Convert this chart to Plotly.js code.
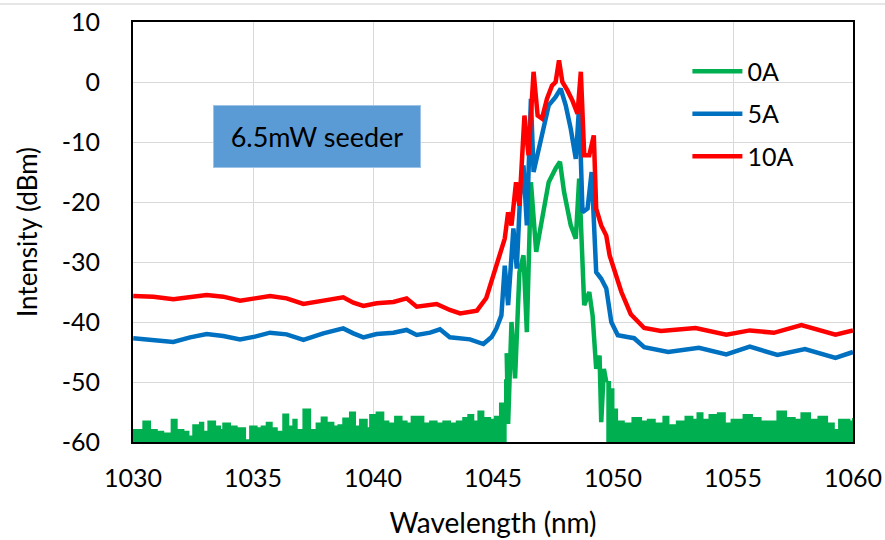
<!DOCTYPE html>
<html>
<head>
<meta charset="utf-8">
<script src="https://cdn.plot.ly/plotly-3.0.1.min.js"></script>
<style>html,body{margin:0;padding:0;background:#fff;}#chart{width:885px;height:540px;}</style>
</head>
<body>
<div id="chart"></div>
<script>
// ---- data ----
const seriesNames = ["0A", "5A", "10A"];
const floorLevel = -60;

// 0A noise floor, left of the peak
const greenLeftX = [1030.0,1030.43,1030.71,1030.99,1031.26,1031.61,1031.82,1032.1,1032.31,1032.51,1032.79,1032.93,1033.14,1033.42,1033.63,1033.76,1034.04,1034.32,1034.67,1034.88,1035.15,1035.36,1035.57,1035.78,1035.99,1036.26,1036.47,1036.68,1036.82,1037.1,1037.38,1037.65,1037.86,1038.07,1038.35,1038.56,1038.76,1039.04,1039.25,1039.46,1039.74,1039.88,1040.15,1040.43,1040.64,1040.92,1041.19,1041.4,1041.61,1041.89,1042.1,1042.38,1042.65,1042.93,1043.21,1043.49,1043.76,1043.97,1044.18,1044.39,1044.6,1044.88,1045.08,1045.29,1045.5,1045.57];
const greenLeftY = [-58.0,-56.6,-58.0,-58.3,-58.6,-56.3,-58.0,-58.3,-59.1,-57.2,-56.8,-58.3,-56.6,-57.4,-58.0,-56.9,-57.4,-57.7,-59.7,-57.4,-57.7,-57.4,-56.8,-57.7,-58.3,-55.4,-57.4,-56.3,-58.0,-54.6,-58.0,-56.9,-55.9,-56.8,-57.4,-57.2,-56.1,-55.1,-57.4,-56.3,-57.7,-55.5,-55.1,-56.6,-56.9,-55.8,-56.6,-56.9,-55.8,-55.8,-56.9,-56.6,-56.9,-56.6,-56.9,-56.6,-56.0,-55.5,-56.6,-54.9,-56.0,-56.3,-55.8,-53.6,-49.7,-45.2];

// 0A peak
const greenPeakX = [1045.57,1045.63,1045.77,1045.92,1046.1,1046.27,1046.41,1046.58,1046.8,1047.04,1047.32,1047.61,1047.79,1047.96,1048.24,1048.45,1048.59,1048.8,1049.01,1049.15,1049.3,1049.44,1049.51,1049.62,1049.72];
const greenPeakY = [-45.2,-57.0,-40.0,-49.4,-31.7,-28.9,-41.7,-16.7,-28.3,-22.8,-16.7,-14.4,-13.3,-18.3,-23.9,-26.1,-16.1,-37.2,-35.0,-38.9,-47.8,-45.6,-56.7,-47.8,-50.0];

// 0A noise floor, right of the peak
const greenRightX = [1049.72,1049.88,1050.02,1050.17,1050.45,1050.81,1051.17,1051.45,1051.74,1052.1,1052.31,1052.66,1053.02,1053.31,1053.52,1053.73,1054.02,1054.37,1054.66,1054.94,1055.44,1055.79,1056.15,1056.43,1056.85,1057.21,1057.57,1057.85,1058.21,1058.56,1058.92,1059.2,1059.42,1059.85,1060.0];
const greenRightY = [-50.0,-51.2,-54.6,-56.6,-56.9,-56.0,-56.6,-56.3,-56.9,-55.8,-57.2,-56.6,-55.8,-56.3,-55.2,-56.3,-55.5,-55.2,-56.9,-56.3,-55.5,-56.0,-56.6,-56.6,-54.9,-56.0,-56.3,-55.2,-56.3,-55.8,-56.9,-58.0,-56.3,-56.6,-56.0];

// 5A
const blueX = [1030.01,1030.85,1031.68,1032.38,1033.07,1033.76,1034.46,1035.08,1035.71,1036.4,1037.1,1037.93,1038.76,1039.18,1039.6,1040.15,1040.85,1041.4,1041.82,1042.38,1042.79,1043.2,1044.04,1044.6,1044.94,1045.14,1045.35,1045.49,1045.63,1045.85,1045.99,1046.13,1046.27,1046.41,1046.58,1046.69,1046.9,1047.11,1047.32,1047.61,1047.82,1048.03,1048.24,1048.45,1048.59,1048.73,1048.94,1049.11,1049.3,1049.51,1049.72,1049.93,1050.2,1050.6,1050.88,1051.3,1052.3,1053.58,1054.72,1055.7,1056.85,1058.0,1059.27,1060.0];
const blueY = [-42.72,-43.0,-43.33,-42.56,-42.0,-42.33,-42.89,-42.44,-41.78,-42.06,-43.0,-41.89,-41.06,-41.89,-42.56,-42.0,-41.78,-41.33,-42.17,-41.78,-41.22,-42.56,-42.89,-43.67,-42.5,-41.1,-38.9,-30.6,-37.2,-24.4,-31.1,-18.9,-13.9,-23.9,-2.8,-15.0,-11.1,-7.8,-3.9,-2.5,-1.1,-3.9,-7.8,-12.8,-3.9,-21.7,-21.1,-15.0,-31.7,-32.8,-34.4,-40.0,-42.2,-42.5,-42.7,-44.2,-45.0,-44.3,-45.4,-44.1,-45.5,-44.5,-46.0,-45.0];

// 10A
const redX = [1030.01,1030.85,1031.68,1032.38,1033.07,1033.76,1034.46,1035.08,1035.71,1036.4,1037.1,1037.93,1038.76,1039.18,1039.6,1040.15,1040.85,1041.4,1041.82,1042.65,1043.2,1043.63,1044.33,1044.72,1045.0,1045.28,1045.49,1045.63,1045.77,1045.96,1046.1,1046.31,1046.48,1046.69,1046.86,1047.04,1047.25,1047.46,1047.61,1047.75,1047.89,1048.1,1048.31,1048.52,1048.66,1048.8,1049.01,1049.2,1049.3,1049.51,1049.72,1049.86,1050.07,1050.35,1050.74,1051.3,1052.0,1053.44,1054.72,1055.7,1056.7,1057.85,1059.27,1060.0];
const redY = [-35.67,-35.78,-36.22,-35.89,-35.5,-35.78,-36.44,-36.06,-35.67,-36.06,-37.0,-36.44,-35.89,-36.78,-37.33,-36.89,-36.67,-36.06,-37.44,-37.0,-38.0,-38.56,-38.11,-36.0,-32.2,-28.9,-26.1,-21.7,-23.9,-16.7,-20.6,-5.6,-12.2,1.7,-5.6,-6.1,-2.8,-0.6,0.0,3.6,0.0,-1.4,-3.1,-5.3,1.7,-12.2,-12.2,-8.9,-21.1,-23.9,-25.6,-28.9,-31.7,-35.0,-38.7,-41.0,-41.5,-41.0,-42.1,-41.4,-41.8,-40.5,-42.1,-41.4];

const xTicks = [1030,1035,1040,1045,1050,1055,1060];
const yTicks = [10,0,-10,-20,-30,-40,-50,-60];
const boxLabel = "6.5mW seeder";

// ---- style ----
const GREEN = "#00B050", BLUE = "#0070C0", RED = "#FF0000";
const FONT = "Lato, 'Open Sans', sans-serif";

function baseline(xs) {
  return {x: xs, y: xs.map(() => floorLevel), mode: "lines", line: {width: 0, color: GREEN},
          showlegend: false, hoverinfo: "skip", legendgroup: "g0"};
}
function noise(xs, ys) {
  return {x: xs, y: ys, mode: "lines", fill: "tonexty", fillcolor: GREEN,
          line: {color: GREEN, width: 2, shape: "hv"}, showlegend: false, legendgroup: "g0"};
}

const traces = [
  baseline(greenLeftX), noise(greenLeftX, greenLeftY),
  baseline(greenRightX), noise(greenRightX, greenRightY),
  {x: greenPeakX, y: greenPeakY, mode: "lines", name: seriesNames[0], legendgroup: "g0",
   line: {color: GREEN, width: 4.5}},
  {x: blueX, y: blueY, mode: "lines", name: seriesNames[1], legendgroup: "g1",
   line: {color: BLUE, width: 4.5}},
  {x: redX, y: redY, mode: "lines", name: seriesNames[2], legendgroup: "g2",
   line: {color: RED, width: 4.5}}
];

const layout = {
  width: 885, height: 540,
  margin: {l: 133, r: 32, t: 22, b: 98},
  paper_bgcolor: "#fff", plot_bgcolor: "#fff",
  font: {family: FONT, size: 25, color: "#000"},
  showlegend: true,
  legend: {x: 0.77, y: 0.937, xanchor: "left", yanchor: "top", bgcolor: "rgba(0,0,0,0)",
           itemwidth: 50,
           font: {family: FONT, size: 25, color: "#000"}, traceorder: "grouped", tracegroupgap: 7},
  xaxis: {range: [1030, 1060], tickvals: xTicks, ticktext: xTicks.map(String),
          showgrid: true, gridcolor: "#d9d9d9", gridwidth: 1, zeroline: false,
          showline: true, linecolor: "#000", linewidth: 2, mirror: true,
          ticks: "outside", ticklen: 13, tickcolor: "rgba(0,0,0,0)",
          tickfont: {family: FONT, size: 25},
          title: {text: "Wavelength (nm)", font: {family: FONT, size: 28}, standoff: 22}},
  yaxis: {range: [-60, 10], tickvals: yTicks, ticktext: yTicks.map(String),
          showgrid: true, gridcolor: "#d9d9d9", gridwidth: 1, zeroline: false,
          showline: true, linecolor: "#000", linewidth: 2, mirror: true,
          ticks: "outside", ticklen: 26, tickcolor: "rgba(0,0,0,0)",
          tickfont: {family: FONT, size: 25},
          title: {text: "Intensity (dBm)", font: {family: FONT, size: 26}, standoff: 17}},
  annotations: [{
    x: 1037.65, y: -9, xref: "x", yref: "y", text: boxLabel, showarrow: false,
    font: {family: FONT, size: 27, color: "#000"},
    bgcolor: "#5B9BD5", bordercolor: "#9DC3E6", borderwidth: 1, borderpad: 4,
    width: 198, height: 53, align: "center", valign: "middle"
  }],
  shapes: [{type: "line", xref: "paper", yref: "paper", x0: -0.185, x1: 1.045, y0: 1.043, y1: 1.043,
            line: {color: "#e6e6e6", width: 2}}]
};

Plotly.newPlot("chart", traces, layout, {displayModeBar: false, staticPlot: true});
</script>
</body>
</html>
